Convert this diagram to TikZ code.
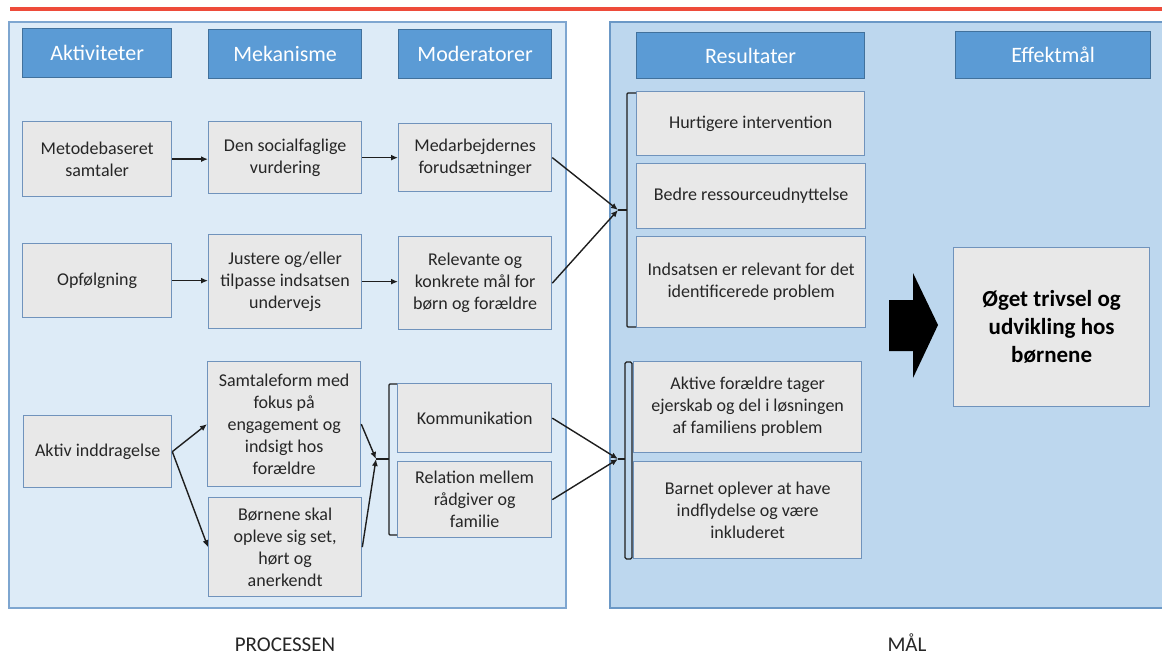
\documentclass[tikz,border=0pt]{standalone}
\usepackage{fontspec}
\setmainfont{Carlito}
\usetikzlibrary{arrows.meta}
\definecolor{panelLF}{HTML}{DDEBF7}
\definecolor{panelLB}{HTML}{7EA6D0}
\definecolor{panelRF}{HTML}{BDD7EE}
\definecolor{panelRB}{HTML}{6B98C6}
\definecolor{hdrF}{HTML}{5B9BD5}
\definecolor{hdrB}{HTML}{41719C}
\definecolor{gF}{HTML}{E8E8E8}
\definecolor{gB}{HTML}{7093BC}
\definecolor{txt}{HTML}{262626}
\definecolor{lineC}{HTML}{1E1E1E}
\definecolor{redline}{HTML}{EE4B3A}
\begin{document}
\begin{tikzpicture}[x=1pt,y=-1pt,
  hdr/.style={draw=hdrB, fill=hdrF, line width=1.2pt, text=white,
    font=\fontsize{22}{26}\selectfont, inner sep=0pt, anchor=north west},
  gbox/.style={draw=gB, fill=gF, line width=1.3pt, text=txt,
    font=\fontsize{18}{22}\selectfont, align=center, inner sep=0pt, anchor=north west},
  bigtxt/.style={gbox, font=\bfseries\fontsize{23}{28}\selectfont, text=black},
  conn/.style={line width=1.4pt, draw=lineC, -{Latex[length=7pt,width=6pt]}},
  plain/.style={line width=1.4pt, draw=lineC},
  brk/.style={line width=1.3pt, draw=lineC, rounded corners=1pt},
  lbl/.style={text=txt, font=\fontsize{21}{25}\selectfont, inner sep=0pt, anchor=base}]
\useasboundingbox (0,0) rectangle (1162,655);
\clip (0,0) rectangle (1162,655);
\fill[white] (0,0) rectangle (1162,655);
% red line
\draw[redline, line width=4pt] (10,9.5) -- (1170,9.5);
% panels
\draw[fill=panelLF, draw=panelLB, line width=1.2pt] (9,22) rectangle (566,608);
\draw[fill=panelRF, draw=panelRB, line width=1.4pt] (610,22) rectangle (1180,608);
% headers
\node[hdr, minimum width=149pt, minimum height=49pt] (h1) at (22,28) {Aktiviteter};
\node[hdr, minimum width=153pt, minimum height=49pt] (h2) at (208,29) {Mekanisme};
\node[hdr, minimum width=153pt, minimum height=49pt] (h3) at (398,29) {Moderatorer};
\node[hdr, minimum width=228pt, minimum height=46pt] (h4) at (636,32) {Resultater};
\node[hdr, minimum width=195pt, minimum height=47pt] (h5) at (955,31) {Effektmål};
% process boxes
\node[gbox, minimum width=149pt, minimum height=75pt] (a1) at (22,121) {Metodebaseret\\samtaler};
\node[gbox, minimum width=153pt, minimum height=72pt] (b1) at (208,121) {Den socialfaglige\\vurdering};
\node[gbox, minimum width=153pt, minimum height=68pt] (c1) at (398,123) {Medarbejdernes\\forudsætninger};
\node[gbox, minimum width=149pt, minimum height=74pt] (a2) at (22,243) {Opfølgning};
\node[gbox, minimum width=153pt, minimum height=94pt] (b2) at (208,234) {Justere og/eller\\tilpasse indsatsen\\undervejs};
\node[gbox, minimum width=153pt, minimum height=93pt] (c2) at (398,236) {Relevante og\\konkrete mål for\\børn og forældre};
\node[gbox, minimum width=148pt, minimum height=72pt] (a3) at (23,415) {Aktiv inddragelse};
\node[gbox, minimum width=153pt, minimum height=125pt] (b3) at (207,361) {Samtaleform med\\fokus på\\engagement og\\indsigt hos\\forældre};
\node[gbox, minimum width=153pt, minimum height=99pt] (b4) at (208,497) {Børnene skal\\opleve sig set,\\hørt og\\anerkendt};
\node[gbox, minimum width=154pt, minimum height=69pt] (c3) at (397,383) {Kommunikation};
\node[gbox, minimum width=154pt, minimum height=76pt] (c4) at (397,461) {Relation mellem\\rådgiver og\\familie};
% result boxes
\node[gbox, minimum width=228pt, minimum height=64pt] (r1) at (636,91) {Hurtigere intervention};
\node[gbox, minimum width=229pt, minimum height=65pt] (r2) at (636,163) {Bedre ressourceudnyttelse};
\node[gbox, minimum width=229pt, minimum height=91pt] (r3) at (636,236) {Indsatsen er relevant for det\\identificerede problem};
\node[gbox, minimum width=228pt, minimum height=91pt] (r4) at (633,361) {Aktive forældre tager\\ejerskab og del i løsningen\\af familiens problem};
\node[gbox, minimum width=228pt, minimum height=97pt] (r5) at (633,461) {Barnet oplever at have\\indflydelse og være\\inkluderet};
\node[bigtxt, minimum width=196pt, minimum height=159pt] (e1) at (953,247) {Øget trivsel og\\udvikling hos\\børnene};
% big arrow
\fill[black] (889,300) -- (913,300) -- (913,273) -- (938,325) -- (913,378) -- (913,351) -- (889,351) -- cycle;
% convergence points
\coordinate (conv1) at (618,210);
\coordinate (conv2) at (376,459);
\coordinate (conv3) at (618,459);
% brackets
\draw[brk] (636,93) -- (627,93) -- (627,327) -- (636,327);
\draw[plain] (conv1) -- (627,210);
\draw[brk] (397,384) -- (389,384) -- (389,535) -- (397,535);
\draw[plain] (conv2) -- (389,459);
\draw[line width=1.3pt, draw=lineC, fill=panelRF, rounded corners=1.5pt] (625,362) rectangle (632,559);
\draw[plain] (conv3) -- (625,459);
% connectors
\draw[conn] (a1.east) -- (a1.east -| b1.west);
\draw[conn] (b1.east) -- (b1.east -| c1.west);
\draw[conn] (a2.east) -- (a2.east -| b2.west);
\draw[conn] (b2.east) -- (b2.east -| c2.west);
\draw[conn] (c1.east) -- (conv1);
\draw[conn] (c2.east) -- (conv1);
\draw[conn] (a3.east) -- (b3.west);
\draw[conn] (a3.east) -- (b4.west);
\draw[conn] (b3.east) -- (conv2);
\draw[conn] (b4.east) -- (conv2);
\draw[conn] (c3.east) -- (conv3);
\draw[conn] (c4.east) -- (conv3);
% bottom labels
\node[lbl] (lp) at (285,651) {PROCESSEN};
\node[lbl] (lm) at (907,651) {MÅL};
\end{tikzpicture}
\end{document}
